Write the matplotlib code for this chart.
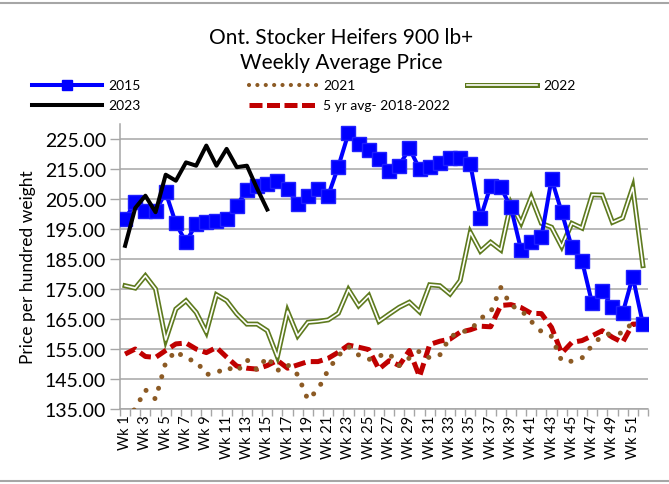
import matplotlib
matplotlib.use("Agg")
import matplotlib.pyplot as plt
from matplotlib.lines import Line2D
from matplotlib.ticker import FixedLocator, FormatStrFormatter

plt.rcParams["font.family"] = ["Lato", "DejaVu Sans"]

# ------------------------------------------------------------------------------
# weekly prices ($/cwt)

weeks = ["Wk %d" % i for i in range(1, 53)]

p2015 = [198.3, 203.9, 200.9, 201.0, 207.2, 196.9, 190.6, 196.7, 197.2, 197.6,
         198.3, 202.8, 208.0, 209.4, 210.0, 211.1, 208.3, 203.3, 206.1, 208.3,
         206.1, 215.8, 226.9, 223.3, 221.3, 218.3, 214.4, 216.1, 221.9, 215.0,
         215.6, 217.0, 218.6, 218.6, 216.7, 198.6, 209.4, 208.9, 202.2, 188.0,
         190.6, 192.2, 211.7, 200.6, 188.9, 184.4, 170.2, 174.4, 168.9, 166.9,
         179.1, 163.3]

p2021 = [132.0, 135.0, 141.4, 138.3, 150.5, 154.4, 151.7, 151.0, 146.5, 147.0,
         149.0, 147.4, 151.4, 148.0, 152.4, 147.8, 149.8, 146.4, 138.1, 141.5,
         148.0, 152.8, 155.8, 153.0, 151.5, 152.7, 153.5, 149.5, 152.0, 154.3,
         152.0, 153.0, 159.0, 160.7, 161.2, 165.2, 167.2, 175.5, 169.5, 168.0,
         164.2, 160.8, 159.2, 151.0, 150.9, 152.0, 156.2, 159.5, 160.3, 160.3,
         163.9, 163.6]

p2022 = [176.1, 175.3, 179.4, 175.0, 158.0, 168.3, 171.1, 167.2, 160.6, 173.1,
         171.1, 166.7, 163.3, 163.3, 161.1, 152.4, 167.6, 159.4, 163.9, 164.2,
         164.7, 166.9, 174.8, 169.4, 172.8, 164.2, 166.6, 168.9, 170.6, 167.4,
         176.4, 176.1, 173.3, 177.8, 193.9, 187.6, 190.6, 188.0, 203.6, 197.0,
         205.6, 196.9, 195.6, 189.1, 196.9, 195.3, 206.4, 206.3, 197.2, 198.7,
         208.9, 182.8]

p2023 = [189.4, 202.0, 206.1, 200.6, 213.1, 211.1, 217.2, 216.1, 222.8, 216.1,
         221.7, 215.6, 216.1, 208.5, 201.5]

avg5 = [153.3, 155.0, 152.5, 152.2, 154.5, 156.7, 157.0, 155.0, 153.8, 155.5,
        152.3, 149.3, 148.6, 148.3, 149.5, 151.2, 148.6, 149.7, 150.8, 150.8,
        151.9, 153.9, 156.3, 155.6, 154.8, 148.3, 151.1, 149.5, 154.5, 145.8,
        156.5, 157.6, 158.3, 160.6, 161.4, 162.6, 162.4, 169.5, 169.8, 168.8,
        166.9, 166.8, 162.2, 153.6, 157.2, 157.8, 159.4, 161.1, 158.9, 157.2,
        163.3, 163.3]

yticks = [135, 145, 155, 165, 175, 185, 195, 205, 215, 225]

# ------------------------------------------------------------------------------

BLUE = "#0000FF"
BROWN = "#8C5A24"
OLIVE = "#5E7A1E"
RED = "#C00000"
GRID = "#A6A6A6"

fig = plt.figure(figsize=(6.69, 4.85), dpi=100)
ax = fig.add_axes([120/669, 1 - 410/485, 528/669, 285/485])

x = list(range(len(weeks)))

# 2022: olive double line
ax.plot(x, p2022, color=OLIVE, lw=3.6, zorder=3, solid_joinstyle="miter")
ax.plot(x, p2022, color="white", lw=1.2, zorder=3.1)

ax.plot(x, avg5, color=RED, lw=3.6, ls=(0, (2.4, 1.1)), zorder=4)
ax.plot(x, p2021, color=BROWN, lw=3.6, ls=(0, (0.01, 2.4)),
        dash_capstyle="round", zorder=4.5)

ax.plot(x, p2015, color=BLUE, lw=2.9, marker="s", ms=9.5,
        mec="#2020FF", mfc=BLUE, zorder=5)
ax.plot(x[:len(p2023)], p2023, color="black", lw=2.9, zorder=6)

ax.set_xlim(-0.5, len(weeks) - 0.5)
ax.set_ylim(135, 230)

ax.yaxis.set_major_locator(FixedLocator(yticks))
ax.yaxis.set_major_formatter(FormatStrFormatter("%.2f"))
ax.grid(axis="y", color=GRID, lw=1.1)
ax.set_axisbelow(True)

ax.set_xticks(x[::2])
ax.set_xticklabels(weeks[::2], rotation=90, fontsize=10.5)
ax.set_xticks([i - 0.5 for i in range(len(weeks) + 1)], minor=True)
ax.tick_params(axis="x", which="major", length=0, pad=4)
ax.tick_params(axis="x", which="minor", length=5, color=GRID, width=1)
ax.tick_params(axis="y", length=7, color=GRID, width=1, labelsize=14, pad=3)

for s in ["top", "right"]:
  ax.spines[s].set_visible(False)
for s in ["left", "bottom"]:
  ax.spines[s].set_color(GRID)
  ax.spines[s].set_linewidth(1.1)

ax.set_ylabel("Price per hundred weight", fontsize=12.5, labelpad=6)

# title
fig.text(341/669, 1 - 38/485, "Ont. Stocker Heifers 900 lb+", ha="center",
         va="center", fontsize=15)
fig.text(341/669, 1 - 63/485, "Weekly Average Price", ha="center",
         va="center", fontsize=15)

# legend, laid out by hand like the original
def leg_line(x0, x1, y, label, **kw):
  yy = 1 - y/485
  fig.add_artist(Line2D([x0/669, x1/669], [yy, yy], **kw))
  fig.text((x1 + 6)/669, yy, label, va="center", ha="left", fontsize=10)

leg_line(32, 102, 86, "2015", color=BLUE, lw=2.9)
fig.add_artist(Line2D([67/669], [1 - 86/485], marker="s", ms=7, color=BLUE))
leg_line(32, 102, 106, "2023", color="black", lw=2.9)
leg_line(249, 317, 86, "2021", color=BROWN, lw=3.0, ls=(0, (0.01, 2.0)),
         dash_capstyle="round")
leg_line(249, 317, 106, "5 yr avg- 2018-2022", color=RED, lw=3.6,
         ls=(0, (2.6, 0.9)))
leg_line(467, 537, 86, "2022", color=OLIVE, lw=3.6)
fig.add_artist(Line2D([467/669, 537/669], [1 - 86/485]*2, color="white", lw=1.2))

# chart-area border lines top and bottom
for yb in [4, 482]:
  fig.add_artist(Line2D([0, 1], [1 - yb/485]*2, color=GRID, lw=1.5))

fig.savefig("out.png", dpi=100)
